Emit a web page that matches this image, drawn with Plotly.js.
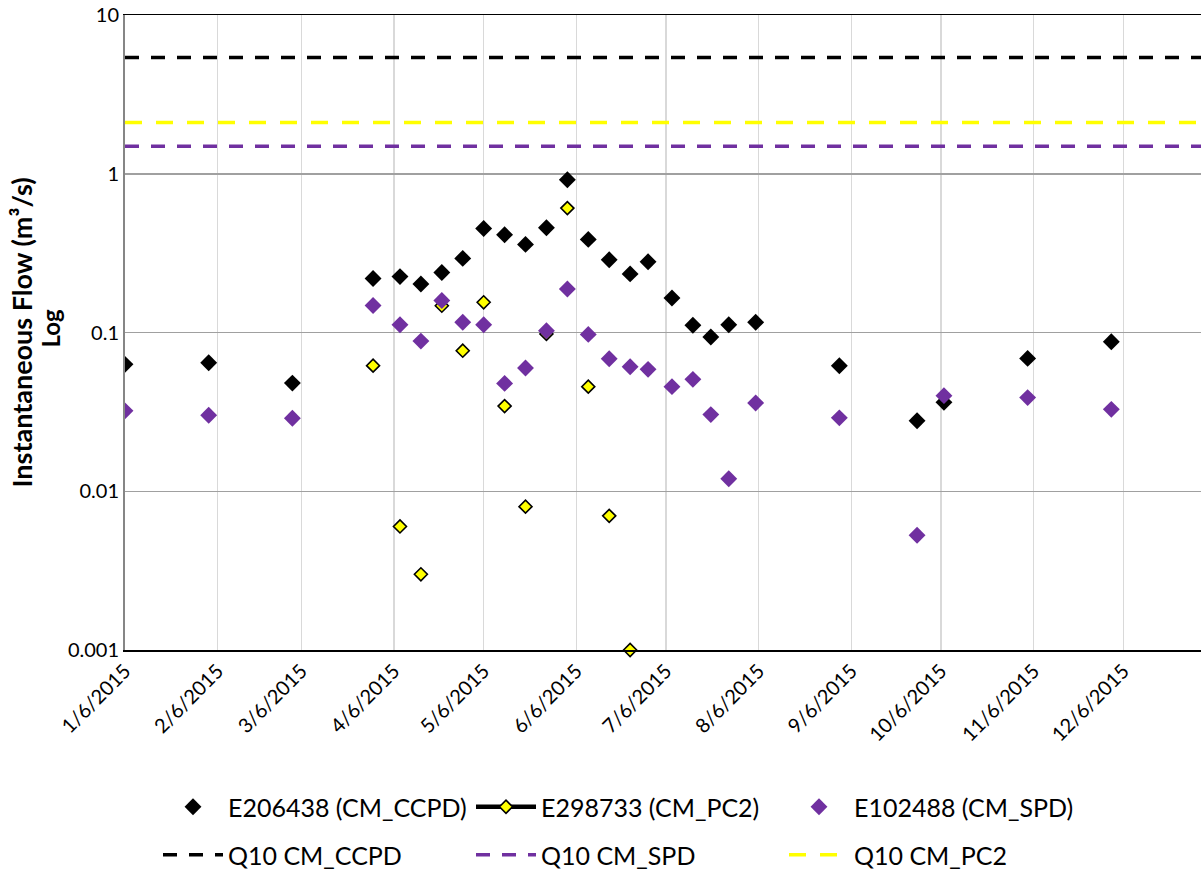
<!DOCTYPE html>
<html>
<head>
<meta charset="utf-8">
<script src="https://cdn.plot.ly/plotly-3.0.1.min.js"></script>
<style>
  html, body { margin: 0; padding: 0; background: #ffffff; }
  #chart { width: 1201px; height: 871px; }
</style>
</head>
<body>
<div id="chart"></div>
<script>
// Sampling dates (2015)
const datesCCPD = ["2015-01-06","2015-02-03","2015-03-03","2015-03-30","2015-04-08","2015-04-15","2015-04-22","2015-04-29","2015-05-06","2015-05-13","2015-05-20","2015-05-27","2015-06-03","2015-06-10","2015-06-17","2015-06-24","2015-06-30","2015-07-08","2015-07-15","2015-07-21","2015-07-27","2015-08-05","2015-09-02","2015-09-28","2015-10-07","2015-11-04","2015-12-02"];
const flowCCPD = [0.063,0.0645,0.048,0.219,0.225,0.202,0.239,0.293,0.452,0.413,0.359,0.457,0.917,0.386,0.287,0.234,0.279,0.165,0.111,0.0936,0.112,0.116,0.0618,0.0278,0.0363,0.0687,0.0875];

const datesSPD = ["2015-01-06","2015-02-03","2015-03-03","2015-03-30","2015-04-08","2015-04-15","2015-04-22","2015-04-29","2015-05-06","2015-05-13","2015-05-20","2015-05-27","2015-06-03","2015-06-10","2015-06-17","2015-06-24","2015-06-30","2015-07-08","2015-07-15","2015-07-21","2015-07-27","2015-08-05","2015-09-02","2015-09-28","2015-10-07","2015-11-04","2015-12-02"];
const flowSPD = [0.0321,0.0301,0.0288,0.148,0.112,0.0883,0.159,0.116,0.112,0.0478,0.0598,0.1025,0.188,0.0973,0.0684,0.0609,0.0586,0.0456,0.0507,0.0304,0.012,0.036,0.029,0.00528,0.040,0.0389,0.0328];

const datesPC2 = ["2015-03-30","2015-04-08","2015-04-15","2015-04-22","2015-04-29","2015-05-06","2015-05-13","2015-05-20","2015-05-27","2015-06-03","2015-06-10","2015-06-17","2015-06-24"];
const flowPC2 = [0.0618,0.006,0.003,0.1475,0.0768,0.155,0.0344,0.008,0.098,0.608,0.0456,0.007,0.001];

// Q10 thresholds (m3/s)
const q10CCPD = 5.4;
const q10SPD = 1.49;
const q10PC2 = 2.1;

// Axis extents
const xRange = ["2015-01-06", "2016-01-01"];
const yTickVals = [0.001, 0.01, 0.1, 1, 10];
const yTickText = ["0.001", "0.01", "0.1", "1", "10"];

const FONT = "Lato, 'Open Sans', sans-serif";
const PURPLE = "#7030A0";
const YELLOW = "#FFFF00";

const traces = [
  {
    type: "scatter", mode: "markers", name: "E206438 (CM_CCPD)",
    x: datesCCPD, y: flowCCPD,
    marker: { symbol: "diamond", size: 13, color: "#000000" },
    legend: "legend"
  },
  {
    type: "scatter", mode: "markers", name: "E298733 (CM_PC2)",
    x: datesPC2, y: flowPC2, showlegend: false, cliponaxis: false,
    marker: { symbol: "diamond", size: 10, color: YELLOW, line: { color: "#000000", width: 1.6 } }
  },
  {
    // legend key for the PC2 series (line + marker)
    type: "scatter", mode: "lines+markers", name: "E298733 (CM_PC2)",
    x: [null], y: [null],
    line: { color: "#000000", width: 4.5 },
    marker: { symbol: "diamond", size: 10, color: YELLOW, line: { color: "#000000", width: 1.6 } },
    legend: "legend"
  },
  {
    type: "scatter", mode: "markers", name: "E102488 (CM_SPD)",
    x: datesSPD, y: flowSPD,
    marker: { symbol: "diamond", size: 13, color: PURPLE },
    legend: "legend"
  },
  {
    type: "scatter", mode: "lines", name: "Q10 CM_CCPD",
    x: xRange, y: [q10CCPD, q10CCPD],
    line: { color: "#000000", width: 3.5, dash: "14px,12px" },
    legend: "legend2"
  },
  {
    type: "scatter", mode: "lines", name: "Q10 CM_SPD",
    x: xRange, y: [q10SPD, q10SPD],
    line: { color: PURPLE, width: 3.5, dash: "14px,12px" },
    legend: "legend2"
  },
  {
    type: "scatter", mode: "lines", name: "Q10 CM_PC2",
    x: xRange, y: [q10PC2, q10PC2],
    line: { color: YELLOW, width: 3.5, dash: "17px,14px" },
    legend: "legend2"
  }
];

const legendCommon = {
  orientation: "h",
  xref: "container", xanchor: "left",
  yref: "container", yanchor: "middle",
  itemwidth: 60,
  entrywidth: 238, entrywidthmode: "pixels",
  font: { family: FONT, size: 25, color: "#000000" },
  bgcolor: "rgba(0,0,0,0)"
};

const layout = {
  width: 1201, height: 871,
  paper_bgcolor: "#ffffff", plot_bgcolor: "#ffffff",
  font: { family: FONT, size: 20, color: "#000000" },
  margin: { l: 125, r: 0, t: 15, b: 221 },
  showlegend: true,
  xaxis: {
    type: "date",
    range: xRange,
    tick0: "2015-01-06", dtick: "M1",
    tickformat: "%-m/%-d/%Y",
    tickangle: -45,
    ticks: "",
    showgrid: true, gridcolor: "#d9d9d9", gridwidth: 1.5,
    showline: true, linecolor: "#000000", linewidth: 1.5, mirror: true,
    zeroline: false,
    tickfont: { family: FONT, size: 20, color: "#000000" }
  },
  yaxis: {
    type: "log",
    range: [-3, 1],
    tickvals: yTickVals, ticktext: yTickText,
    ticks: "", ticklen: 0,
    showgrid: true, gridcolor: "#a0a0a0", gridwidth: 1.5,
    showline: true, linecolor: "#868686", linewidth: 2,
    zeroline: false,
    tickfont: { family: FONT, size: 20, color: "#000000" }
  },
  // Two-line vertical axis title
  annotations: [
    {
      text: "<b>Instantaneous Flow (m³/s)</b>",
      textangle: -90, showarrow: false,
      xref: "paper", yref: "paper", x: 0, y: 0.5,
      xanchor: "center", yanchor: "middle", xshift: -104,
      font: { family: FONT, size: 27, color: "#000000" }
    },
    {
      text: "<b>Log</b>",
      textangle: -90, showarrow: false,
      xref: "paper", yref: "paper", x: 0, y: 0.5,
      xanchor: "center", yanchor: "middle", xshift: -75, yshift: 4,
      font: { family: FONT, size: 24, color: "#000000" }
    }
  ],
  legend: Object.assign({}, legendCommon, { x: 158 / 1201, y: (871 - 807) / 871 }),
  legend2: Object.assign({}, legendCommon, { x: 158 / 1201, y: (871 - 855) / 871 })
};

Plotly.newPlot("chart", traces, layout, { displayModeBar: false, staticPlot: true });
</script>
</body>
</html>
